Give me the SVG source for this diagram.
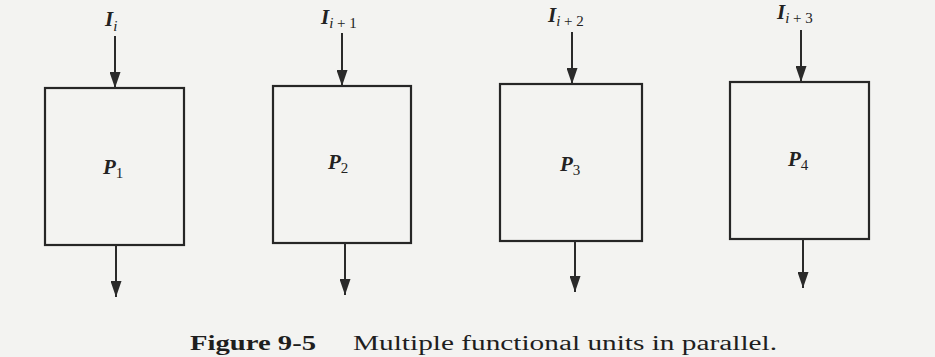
<svg xmlns="http://www.w3.org/2000/svg" width="935" height="357" viewBox="0 0 935 357">
<defs>
<marker id="ah" viewBox="0 0 16 11" refX="16" refY="5.5" markerWidth="16" markerHeight="11" markerUnits="userSpaceOnUse" orient="auto">
<path d="M0,0 L16,5.5 L0,11 Z" fill="#2a2a2a"/>
</marker>
<style>
.box{fill:none;stroke:#262626;stroke-width:2.2}
.wire{stroke:#2a2a2a;stroke-width:2;fill:none;marker-end:url(#ah)}
.lbl{font-family:"Liberation Serif",serif;font-style:italic;font-weight:bold;font-size:21px;fill:#222}
.sub{font-style:italic;font-weight:normal;font-size:15px}
.subn{font-style:normal;font-weight:normal;font-size:15px}
.cap{font-family:"Liberation Serif",serif;font-size:20px;fill:#1e1e1e}
</style>
</defs>
<rect width="935" height="357" fill="#f3f3f1"/>
<g id="unit1">
<rect class="box" x="45" y="88" width="139" height="157"/>
<text class="lbl" x="103" y="174">P<tspan class="subn" dy="4">1</tspan></text>
<text class="lbl" x="105" y="26">I<tspan class="sub" dy="5">i</tspan></text>
</g>
<g id="unit2">
<rect class="box" x="273" y="86" width="138" height="157"/>
<text class="lbl" x="328" y="169">P<tspan class="subn" dy="4">2</tspan></text>
<text class="lbl" x="321" y="24">I<tspan class="sub" dy="4">i</tspan><tspan class="subn"> + 1</tspan></text>
</g>
<g id="unit3">
<rect class="box" x="500" y="84" width="142" height="157"/>
<text class="lbl" x="560" y="171">P<tspan class="subn" dy="4">3</tspan></text>
<text class="lbl" x="548" y="22">I<tspan class="sub" dy="4">i</tspan><tspan class="subn"> + 2</tspan></text>
</g>
<g id="unit4">
<rect class="box" x="730" y="82" width="139" height="157"/>
<text class="lbl" x="788" y="166">P<tspan class="subn" dy="4">4</tspan></text>
<text class="lbl" x="777" y="19">I<tspan class="sub" dy="4">i</tspan><tspan class="subn"> + 3</tspan></text>
</g>
<g id="connectors">
<line class="wire" x1="115" y1="36" x2="115" y2="88"/>
<line class="wire" x1="116" y1="245" x2="116" y2="297"/>
<line class="wire" x1="342" y1="33" x2="342" y2="86"/>
<line class="wire" x1="345" y1="243" x2="345" y2="295"/>
<line class="wire" x1="572" y1="32" x2="572" y2="84"/>
<line class="wire" x1="575" y1="241" x2="575" y2="292"/>
<line class="wire" x1="801" y1="30" x2="801" y2="82"/>
<line class="wire" x1="803" y1="239" x2="803" y2="288"/>
</g>
<g id="caption">
<text class="cap" x="190" y="350" font-weight="bold" textLength="126" lengthAdjust="spacingAndGlyphs">Figure 9-5</text>
<text class="cap" x="353" y="350" textLength="424" lengthAdjust="spacingAndGlyphs">Multiple functional units in parallel.</text>
</g>
</svg>
